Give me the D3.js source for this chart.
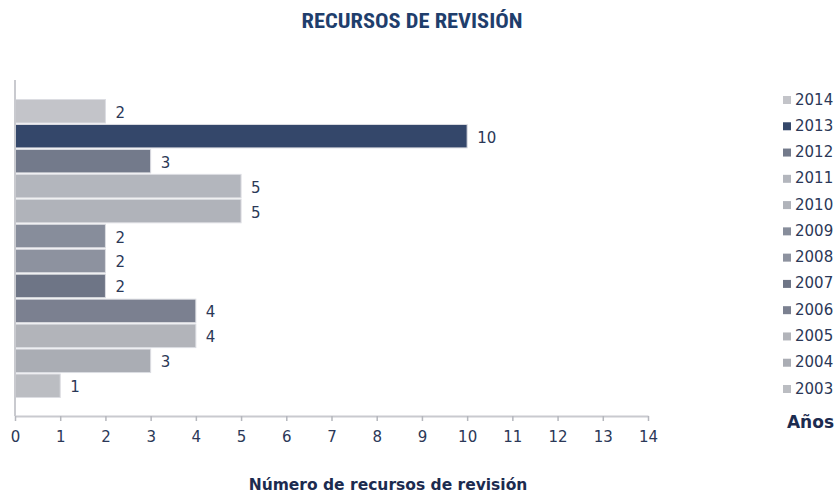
<!DOCTYPE html>
<html>
<head>
<meta charset="utf-8">
<script src="https://cdn.jsdelivr.net/npm/d3@7/dist/d3.min.js"></script>
<style>
  html, body { margin: 0; padding: 0; background: #ffffff; }
  svg { display: block; }
</style>
</head>
<body>
<script>
// Recursos de revisión por año
const years  = ["2014", "2013", "2012", "2011", "2010", "2009", "2008", "2007", "2006", "2005", "2004", "2003"];
const values = [2, 10, 3, 5, 5, 2, 2, 2, 4, 4, 3, 1];
const colors = ["#c3c4c9", "#34476a", "#737a8b", "#b3b6bd", "#b0b3ba", "#878d9b",
                "#8d929f", "#6e7586", "#7b8090", "#b2b4ba", "#aaadb4", "#bbbdc2"];
const xTicks = [0, 1, 2, 3, 4, 5, 6, 7, 8, 9, 10, 11, 12, 13, 14];

const W = 837, H = 494;
const navy = "#2b3857";
const font = "'DejaVu Sans', Verdana, sans-serif";

const svg = d3.select("body").append("svg")
  .attr("width", W).attr("height", H);

// Title
svg.append("text")
  .attr("x", 412).attr("y", 28)
  .attr("text-anchor", "middle")
  .attr("font-family", "'Liberation Sans Narrow', 'Roboto Condensed', 'Liberation Sans', sans-serif")
  .attr("font-weight", "bold")
  .attr("font-size", 21)
  .attr("textLength", 221)
  .attr("lengthAdjust", "spacingAndGlyphs")
  .attr("fill", "#1f3e6c")
  .text("RECURSOS DE REVISIÓN");

// Scales
const x = d3.scaleLinear().domain([0, 14]).range([15, 648]);
const y = d3.scaleBand().domain(years).range([99, 398]).paddingInner(0.06).paddingOuter(0.02);

// Bars
const data = years.map((yr, i) => ({ year: yr, value: values[i], color: colors[i] }));

svg.append("g").selectAll("rect")
  .data(data)
  .join("rect")
  .attr("x", x(0))
  .attr("y", d => y(d.year))
  .attr("width", d => x(d.value) - x(0))
  .attr("height", y.bandwidth())
  .attr("fill", d => d.color)
  .attr("stroke", "#dcdde2")
  .attr("stroke-width", 1);

// Value labels
svg.append("g").selectAll("text")
  .data(data)
  .join("text")
  .attr("x", d => x(d.value) + 10)
  .attr("y", d => y(d.year) + y.bandwidth() / 2 + 2)
  .attr("dominant-baseline", "middle")
  .attr("font-family", font)
  .attr("font-size", 15)
  .attr("fill", navy)
  .text(d => d.value);

// Vertical axis line
svg.append("line")
  .attr("x1", x(0)).attr("x2", x(0))
  .attr("y1", 80).attr("y2", 416)
  .attr("stroke", "#c9cacf").attr("stroke-width", 2);

// Horizontal axis
const xAxis = d3.axisBottom(x).tickValues(xTicks).tickSize(5).tickSizeOuter(0).tickPadding(10);
const gx = svg.append("g").attr("transform", "translate(0,416)").call(xAxis);
gx.select(".domain").attr("stroke", "#c9cacf").attr("stroke-width", 2);
gx.selectAll(".tick line").attr("stroke", "#b5b7bd").attr("stroke-width", 1.5);
gx.selectAll(".tick text")
  .attr("font-family", font)
  .attr("font-size", 15)
  .attr("fill", navy);

// Axis title
svg.append("text")
  .attr("x", 388).attr("y", 490)
  .attr("text-anchor", "middle")
  .attr("font-family", font)
  .attr("font-weight", "bold")
  .attr("font-size", 15.5)
  .attr("fill", "#1c2b4f")
  .text("Número de recursos de revisión");

// Legend
const ly = d3.scalePoint().domain(years).range([100, 389]);
const legend = svg.append("g").selectAll("g")
  .data(data)
  .join("g")
  .attr("transform", d => `translate(0,${ly(d.year)})`);

legend.append("rect")
  .attr("x", 783).attr("y", -4)
  .attr("width", 8).attr("height", 8)
  .attr("fill", d => d.color);

legend.append("text")
  .attr("x", 795).attr("y", 0)
  .attr("dominant-baseline", "middle")
  .attr("font-family", font)
  .attr("font-size", 15)
  .attr("fill", navy)
  .text(d => d.year);

svg.append("text")
  .attr("x", 834).attr("y", 428)
  .attr("text-anchor", "end")
  .attr("font-family", font)
  .attr("font-weight", "bold")
  .attr("font-size", 17)
  .attr("fill", "#1c2b4f")
  .text("Años");
</script>
</body>
</html>
